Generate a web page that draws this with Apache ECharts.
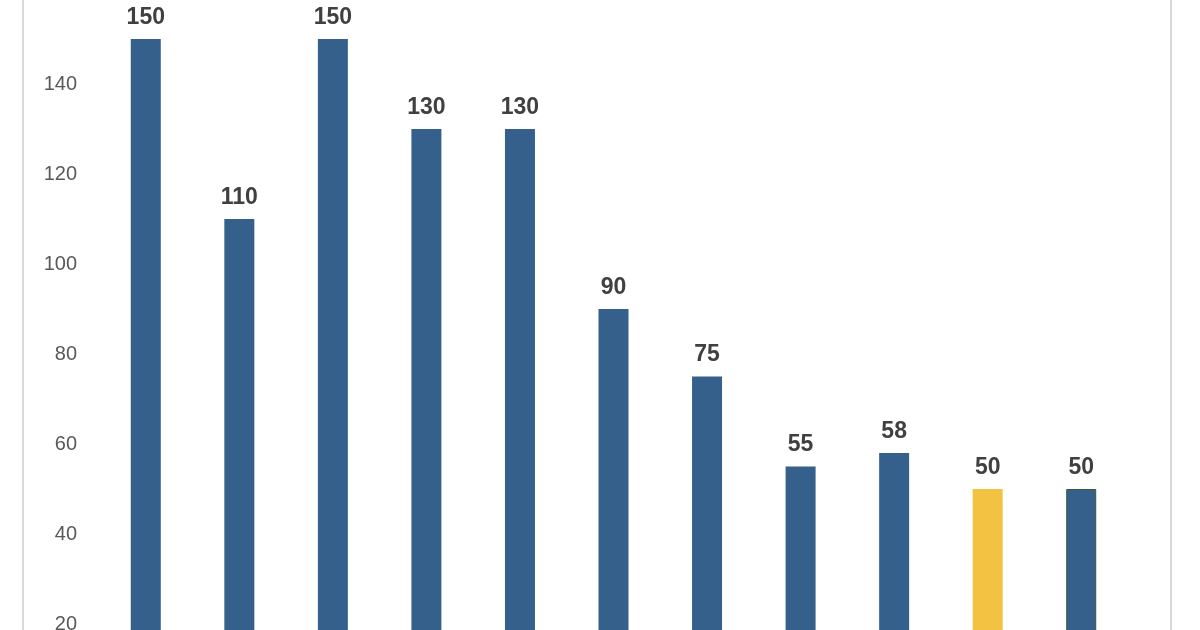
<!DOCTYPE html>
<html>
<head>
<meta charset="utf-8">
<script src="https://cdn.jsdelivr.net/npm/echarts@6/dist/echarts.min.js"></script>
<style>
html,body{margin:0;padding:0;background:#fff;}
#chart{width:1200px;height:630px;}
</style>
</head>
<body>
<div id="chart"></div>
<script>
const categories = ['1','2','3','4','5','6','7','8','9','10','11'];
const values = [150, 110, 150, 130, 130, 90, 75, 55, 58, 50, 50];
const highlightIndex = 9;
const lastIndex = 10;

const chart = echarts.init(document.getElementById('chart'));
const data = values.map((v, i) => {
  const item = { value: v };
  if (i === highlightIndex) item.itemStyle = { color: '#F4C242' };
  if (i === lastIndex) item.itemStyle = { color: '#35608B', borderColor: '#3C5A35', borderWidth: 1 };
  return item;
});
chart.setOption({
  animation: false,
  backgroundColor: '#ffffff',
  grid: { left: 99, right: 72, top: -6, height: 720, outerBoundsMode: 'none' },
  xAxis: {
    type: 'category',
    data: categories,
    axisLine: { show: false },
    axisTick: { show: false },
    axisLabel: { show: false }
  },
  yAxis: {
    type: 'value',
    min: 0, max: 160, interval: 20,
    axisLine: { show: false },
    axisTick: { show: false },
    splitLine: { show: false },
    axisLabel: { color: '#595959', fontSize: 20, fontFamily: 'Liberation Sans, Arial, sans-serif', margin: 22, showMaxLabel: true }
  },
  series: [{
    type: 'bar',
    data: data,
    barWidth: 30,
    itemStyle: { color: '#35608B' },
    label: {
      show: true,
      position: 'top',
      distance: 10,
      color: '#404040',
      fontSize: 23,
      fontWeight: 'bold',
      fontFamily: 'Liberation Sans, Arial, sans-serif'
    }
  }],
  graphic: [
    { type: 'line', shape: { x1: 23, y1: 0, x2: 23, y2: 630 }, style: { stroke: '#d9d9d9', lineWidth: 2 } },
    { type: 'line', shape: { x1: 1171, y1: 0, x2: 1171, y2: 630 }, style: { stroke: '#d9d9d9', lineWidth: 2 } }
  ]
});
</script>
</body>
</html>
